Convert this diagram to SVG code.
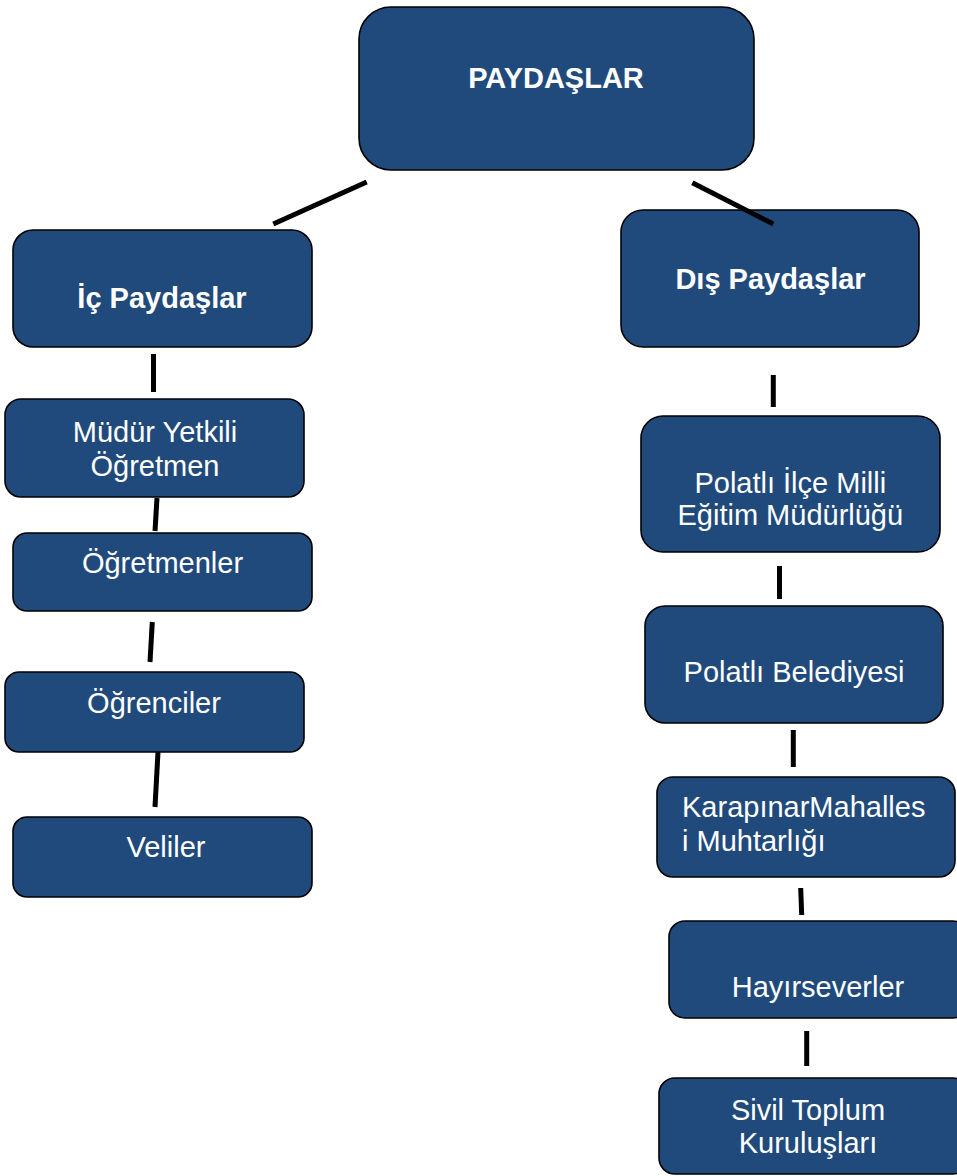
<svg xmlns="http://www.w3.org/2000/svg" width="957" height="1176" viewBox="0 0 957 1176">
<style>
.box{fill:#214a7c;stroke:#000;stroke-width:1.6}
.t{fill:#fff;font-family:"Liberation Sans",Arial,sans-serif;font-size:29px;text-anchor:middle}
.b{font-weight:bold}
.l{text-anchor:start}
.c{stroke:#000;stroke-width:5;fill:none}
</style>
<rect width="957" height="1176" fill="#fff"/>
<g id="paydaslar">
<rect class="box" x="359" y="7" width="395" height="163" rx="32"/>
<text class="t b" x="556" y="88">PAYDAŞLAR</text>
</g>
<g id="ic">
<rect class="box" x="13" y="230" width="299" height="117" rx="20"/>
<text class="t b" x="162" y="308">İç Paydaşlar</text>
</g>
<g id="mudur">
<rect class="box" x="5" y="399" width="299" height="98" rx="16"/>
<text class="t" x="155" y="442">Müdür Yetkili</text>
<text class="t" x="155" y="476">Öğretmen</text>
</g>
<g id="ogretmenler">
<rect class="box" x="13" y="533" width="299" height="78" rx="14"/>
<text class="t" x="162.5" y="573">Öğretmenler</text>
</g>
<g id="ogrenciler">
<rect class="box" x="5" y="672" width="299" height="80" rx="14"/>
<text class="t" x="154" y="713">Öğrenciler</text>
</g>
<g id="veliler">
<rect class="box" x="13" y="817" width="299" height="80" rx="14"/>
<text class="t" x="166" y="857">Veliler</text>
</g>
<g id="dis">
<rect class="box" x="621" y="210" width="298" height="137" rx="22"/>
<text class="t b" x="770.5" y="289">Dış Paydaşlar</text>
</g>
<g id="mem">
<rect class="box" x="641" y="416" width="299" height="136" rx="22"/>
<text class="t" x="790.3" y="493">Polatlı İlçe Milli</text>
<text class="t" x="790.3" y="525">Eğitim Müdürlüğü</text>
</g>
<g id="belediye">
<rect class="box" x="645" y="606" width="298" height="117" rx="20"/>
<text class="t" x="794" y="682">Polatlı Belediyesi</text>
</g>
<g id="muhtarlik">
<rect class="box" x="657" y="777" width="298" height="100" rx="16"/>
<text class="t l" x="682" y="817">KarapınarMahalles</text>
<text class="t l" x="682" y="851">i Muhtarlığı</text>
</g>
<g id="hayirseverler">
<rect class="box" x="669" y="921" width="300" height="97" rx="16"/>
<text class="t" x="818" y="997">Hayırseverler</text>
</g>
<g id="stk">
<rect class="box" x="659" y="1078" width="310" height="96" rx="16"/>
<text class="t" x="808" y="1120">Sivil Toplum</text>
<text class="t" x="808" y="1153">Kuruluşları</text>
</g>
<g id="connectors">
<line class="c" x1="366.7" y1="182" x2="273.3" y2="224"/>
<line class="c" x1="692.3" y1="182.7" x2="773.3" y2="224"/>
<line class="c" x1="153.5" y1="354" x2="153.5" y2="392"/>
<line class="c" x1="157" y1="498" x2="155" y2="531"/>
<line class="c" x1="152.3" y1="622" x2="150" y2="662"/>
<line class="c" x1="158" y1="752" x2="155" y2="807"/>
<line class="c" x1="773.3" y1="375" x2="773.3" y2="407"/>
<line class="c" x1="779.5" y1="566" x2="779.5" y2="599"/>
<line class="c" x1="793.3" y1="730" x2="793.3" y2="767"/>
<line class="c" x1="800.7" y1="888" x2="801.7" y2="915"/>
<line class="c" x1="806.7" y1="1031" x2="806.7" y2="1066"/>
</g>
</svg>
